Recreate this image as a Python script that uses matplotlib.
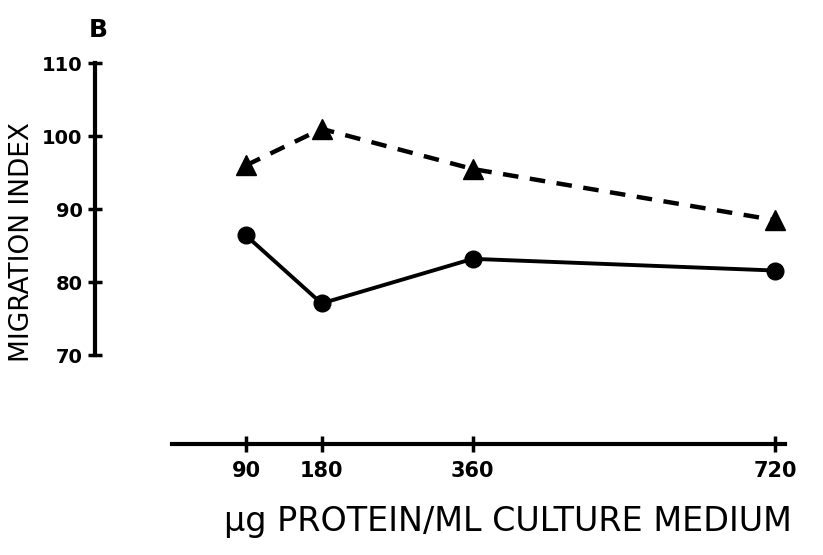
import numpy as np
import matplotlib.pyplot as plt

dose = [90, 180, 360, 720]
triangle_vals = [96.0, 101.0, 95.5, 88.5]
circle_vals = [86.4, 77.1, 83.2, 81.6]
xticks = [90, 180, 360, 720]
yticks = [70, 80, 90, 100, 110]

fig = plt.figure(figsize=(8.23, 5.55), dpi=100)
ax = fig.add_axes([95/823, 0.2, (800-95)/823, (444-20)/555])

ax.plot(dose, triangle_vals, color='black', lw=3.2, ls=(0, (3.5, 2.6)),
        marker='^', ms=14, clip_on=False)
ax.plot(dose, circle_vals, color='black', lw=2.8, ls='-',
        marker='o', ms=12, clip_on=False)

ax.set_xlim(-89.8, 749.8)
ax.set_ylim(57.85, 115.9)

for s in ['top', 'right']:
    ax.spines[s].set_visible(False)
ax.spines['left'].set_bounds(70, 110)
ax.spines['bottom'].set_bounds(2, 732)
ax.spines['left'].set_linewidth(3)
ax.spines['bottom'].set_linewidth(3)

ax.set_xticks(xticks)
ax.set_yticks(yticks)
ax.set_xticklabels([str(v) for v in xticks], fontsize=15, fontweight='bold')
ax.set_yticklabels([str(v) for v in yticks], fontsize=14, fontweight='bold')
ax.tick_params(axis='x', direction='inout', length=12, width=2.5, pad=6)
ax.tick_params(axis='y', direction='inout', length=10, width=2.5, pad=4)

fig.text(22/823, 1 - 242/555, 'MIGRATION INDEX', rotation=90, fontsize=19,
         ha='center', va='center')
fig.text(508/823, 1 - 522/555, 'μg PROTEIN/ML CULTURE MEDIUM', fontsize=24,
         ha='center', va='center')
fig.text(98/823, 1 - 30/555, 'B', fontsize=18, fontweight='bold',
         ha='center', va='center')

fig.savefig('out.png', dpi=100)
